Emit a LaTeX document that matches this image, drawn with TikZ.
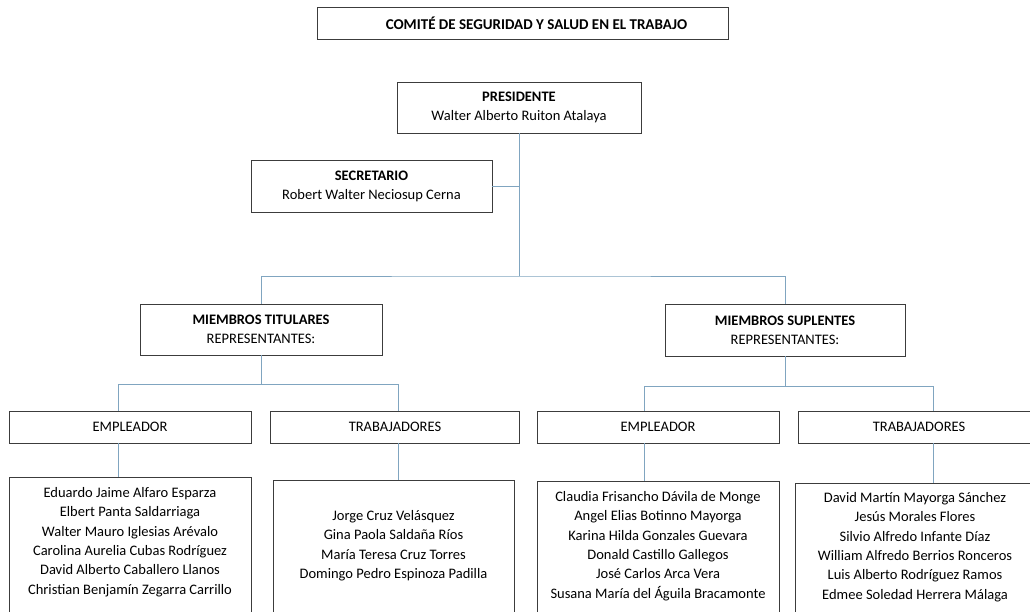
\documentclass[tikz,border=0pt]{standalone}
\usepackage{fontspec}
\setmainfont{Carlito}
\usetikzlibrary{positioning}
\definecolor{linkblue}{RGB}{128,165,192}
\definecolor{boxgray}{RGB}{60,60,60}

\begin{document}
\begin{tikzpicture}[x=1pt,y=-1pt,
    box/.style={draw=boxgray,line width=0.9pt,inner sep=0pt,align=center,
      font=\fontsize{14.5}{19}\selectfont},
    link/.style={draw=linkblue,line width=0.9pt},
    names/.style={inner sep=0pt,align=center,font=\fontsize{14.5}{19.4}\selectfont}]
  \useasboundingbox (0,0) rectangle (1030,612);
  \clip (0,0) rectangle (1030,612);
  \fill[white] (0,0) rectangle (1030,612);

  \node[box,minimum width=411pt,minimum height=32pt,font=\fontsize{15}{19}\selectfont] (comite) at (522.5,23)
    {\hspace*{28pt}\textbf{COMITÉ DE SEGURIDAD Y SALUD EN EL TRABAJO}};
  \node[box,minimum width=244pt,minimum height=51pt] (pres) at (519,107.5)
    {\textbf{PRESIDENTE}\\Walter Alberto Ruiton Atalaya};
  \node[box,minimum width=241pt,minimum height=52pt] (sec) at (371.5,186)
    {\textbf{SECRETARIO}\\Robert Walter Neciosup Cerna};
  \node[box,minimum width=242pt,minimum height=51pt] (tit) at (261,329.5)
    {\textbf{MIEMBROS TITULARES}\\REPRESENTANTES:};
  \node[box,minimum width=240pt,minimum height=52pt] (sup) at (785,330)
    {\textbf{MIEMBROS SUPLENTES}\\REPRESENTANTES:};

  \node[box,minimum width=242pt,minimum height=32pt] (emp1) at (130,427) {EMPLEADOR};
  \node[box,minimum width=249pt,minimum height=32pt] (trab1) at (395,427) {TRABAJADORES};
  \node[box,minimum width=242pt,minimum height=32pt] (emp2) at (658,427) {EMPLEADOR};
  \node[box,minimum width=242pt,minimum height=32pt] (trab2) at (919,427) {TRABAJADORES};

  \node[box,anchor=north,minimum width=242pt,minimum height=160pt] (n1) at (130,477) {};
  \node[box,anchor=north,minimum width=241pt,minimum height=160pt] (n2) at (393.5,480) {};
  \node[box,anchor=north,minimum width=242pt,minimum height=160pt] (n3) at (658,481) {};
  \node[box,anchor=north,minimum width=240pt,minimum height=160pt] (n4) at (915,483) {};

  \node[names,below=10pt of n1.north] (lista1) {Eduardo Jaime Alfaro Esparza\\Elbert Panta Saldarriaga\\
    Walter Mauro Iglesias Arévalo\\Carolina Aurelia Cubas Rodríguez\\
    David Alberto Caballero Llanos\\Christian Benjamín Zegarra Carrillo};
  \node[names,below=30pt of n2.north] (lista2) {Jorge Cruz Velásquez\\Gina Paola Saldaña Ríos\\
    María Teresa Cruz Torres\\Domingo Pedro Espinoza Padilla};
  \node[names,below=10pt of n3.north] (lista3) {Claudia Frisancho Dávila de Monge\\Angel Elias Botinno Mayorga\\
    Karina Hilda Gonzales Guevara\\Donald Castillo Gallegos\\
    José Carlos Arca Vera\\Susana María del Águila Bracamonte};
  \node[names,below=9pt of n4.north] (lista4) {David Martín Mayorga Sánchez\\Jesús Morales Flores\\
    Silvio Alfredo Infante Díaz\\William Alfredo Berrios Ronceros\\
    Luis Alberto Rodríguez Ramos\\Edmee Soledad Herrera Málaga};

  \coordinate (busM) at (519,276);
  \coordinate (busL) at (118,384);
  \coordinate (busT) at (398,384);
  \coordinate (busR) at (644,386);
  \coordinate (busS) at (933,386);

  \draw[link] (pres.south) -- (busM);
  \draw[link] (sec.east) -- (sec.east -| busM);
  \draw[link] (tit.north) |- (busM) -| (sup.north);
  \draw[link] (tit.south) |- (busL) -- (emp1.north -| busL);
  \draw[link] (tit.south |- busL) -- (busT) -- (trab1.north -| busT);
  \draw[link] (sup.south) |- (busR) -- (emp2.north -| busR);
  \draw[link] (sup.south |- busR) -- (busS) -- (trab2.north -| busS);
  \draw[link] (emp1.south -| busL) -- (n1.north -| busL);
  \draw[link] (trab1.south -| busT) -- (n2.north -| busT);
  \draw[link] (emp2.south -| busR) -- (n3.north -| busR);
  \draw[link] (trab2.south -| busS) -- (n4.north -| busS);
\end{tikzpicture}
\end{document}
